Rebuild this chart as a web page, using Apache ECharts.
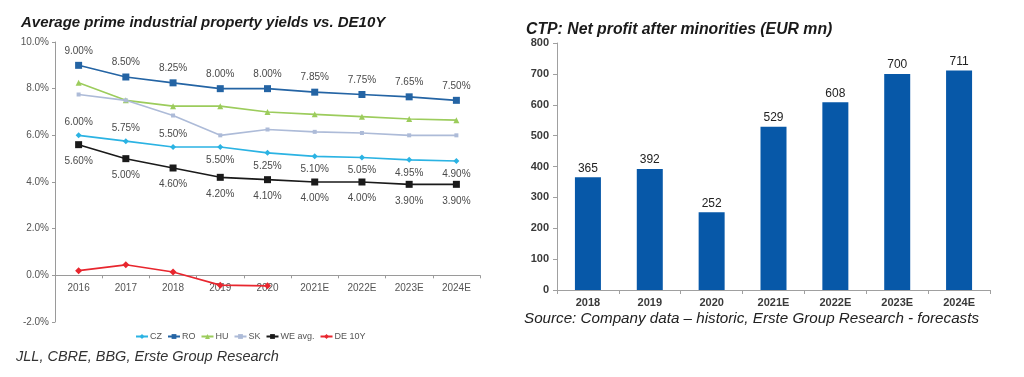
<!DOCTYPE html>
<html>
<head>
<meta charset="utf-8">
<script src="https://cdn.jsdelivr.net/npm/echarts@6/dist/echarts.min.js"></script>
<style>
  html, body { margin: 0; padding: 0; background: #fff; }
  #chart-container { width: 1024px; height: 377px; }
</style>
</head>
<body>
<div id="chart-container"></div>
<script>
// left chart: yields
const yieldYears = ['2016', '2017', '2018', '2019', '2020', '2021E', '2022E', '2023E', '2024E'];
const czYields = [6.00, 5.75, 5.50, 5.50, 5.25, 5.10, 5.05, 4.95, 4.90];
const roYields = [9.00, 8.50, 8.25, 8.00, 8.00, 7.85, 7.75, 7.65, 7.50];
const huYields = [8.25, 7.50, 7.25, 7.25, 7.00, 6.90, 6.80, 6.70, 6.65];
const skYields = [7.75, 7.50, 6.85, 6.00, 6.25, 6.15, 6.10, 6.00, 6.00];
const weYields = [5.60, 5.00, 4.60, 4.20, 4.10, 4.00, 4.00, 3.90, 3.90];
const de10y = [0.20, 0.45, 0.14, -0.42, -0.45];
const czLabelAbove = [true, true, true, false, false, false, false, false, false];

// right chart: net profit
const profitYears = ['2018', '2019', '2020', '2021E', '2022E', '2023E', '2024E'];
const netProfit = [365, 392, 252, 529, 608, 700, 711];

const chartDom = document.getElementById('chart-container');
const myChart = echarts.init(chartDom);

// left grid geometry, x axis sits at 0%
const leftTop = 42, leftHeight = 280, yMin = -2, yMax = 10;
const zeroOffset = -leftHeight * (0 - yMin) / (yMax - yMin);

const pctLabel = {
    show: true,
    fontSize: 10,
    color: '#4a4a4a',
    fontFamily: 'Liberation Sans',
    formatter: (p) => p.value.toFixed(2) + '%'
};

function lineSeries(name, data, color, symbol, size, extra) {
    return Object.assign({
        name: name,
        type: 'line',
        xAxisIndex: 0,
        yAxisIndex: 0,
        data: data,
        symbol: symbol,
        symbolSize: size,
        lineStyle: {color: color, width: 1.6},
        itemStyle: {color: color},
        z: 3
    }, extra || {});
}

const czData = czYields.map((v, i) => ({
    value: v,
    label: {position: czLabelAbove[i] ? 'top' : 'bottom', distance: 5}
}));

var option;

option = {
    animation: false,
    textStyle: {fontFamily: 'Liberation Sans'},
    title: [
        {
            text: 'Average prime industrial property yields vs. DE10Y',
            left: 16, top: 10,
            textStyle: {fontSize: 15, fontWeight: 'bold', fontStyle: 'italic', color: '#1a1a1a', fontFamily: 'Liberation Sans'}
        },
        {
            text: 'CTP: Net profit after minorities (EUR mn)',
            left: 521, top: 17,
            textStyle: {fontSize: 15.8, fontWeight: 'bold', fontStyle: 'italic', color: '#1a1a1a', fontFamily: 'Liberation Sans'}
        }
    ],
    legend: {
        left: 130, top: 327,
        itemWidth: 12, itemHeight: 6, itemGap: 5,
        textStyle: {fontSize: 9, color: '#555', padding: [0, 0, 0, -3]},
        data: ['CZ', 'RO', 'HU', 'SK', 'WE avg.', 'DE 10Y']
    },
    grid: [
        {left: 55, top: leftTop, width: 425, height: leftHeight},
        {left: 557, top: 43, width: 433, height: 247}
    ],
    xAxis: [
        {
            gridIndex: 0,
            type: 'category',
            data: yieldYears,
            offset: zeroOffset,
            axisLine: {onZero: false, lineStyle: {color: '#9a9a9a'}},
            axisTick: {show: true, length: 3, lineStyle: {color: '#9a9a9a'}},
            axisLabel: {fontSize: 10, color: '#555', margin: 8}
        },
        {
            gridIndex: 1,
            type: 'category',
            data: profitYears,
            axisLine: {lineStyle: {color: '#a0a0a0'}},
            axisTick: {show: true, length: 4, lineStyle: {color: '#a0a0a0'}},
            axisLabel: {fontSize: 11, color: '#3a3a3a', fontWeight: 'bold', margin: 7}
        }
    ],
    yAxis: [
        {
            gridIndex: 0,
            type: 'value',
            min: yMin, max: yMax, interval: 2,
            axisLine: {show: true, lineStyle: {color: '#9a9a9a'}},
            axisTick: {show: true, length: 3, lineStyle: {color: '#9a9a9a'}},
            splitLine: {show: false},
            axisLabel: {fontSize: 10, color: '#555', margin: 6, formatter: (v) => v.toFixed(1) + '%'}
        },
        {
            gridIndex: 1,
            type: 'value',
            min: 0, max: 800, interval: 100,
            axisLine: {show: true, lineStyle: {color: '#a0a0a0'}},
            axisTick: {show: true, length: 4, lineStyle: {color: '#a0a0a0'}},
            splitLine: {show: false},
            axisLabel: {fontSize: 11, color: '#3a3a3a', fontWeight: 'bold', margin: 8}
        }
    ],
    series: [
        lineSeries('CZ', czData, '#2bb3e3', 'diamond', 6, {label: pctLabel}),
        lineSeries('RO', roYields, '#2464a4', 'rect', 7, {label: Object.assign({}, pctLabel, {position: 'top', distance: 6})}),
        lineSeries('HU', huYields, '#9ccc5c', 'triangle', 6),
        lineSeries('SK', skYields, '#adbbd8', 'rect', 4),
        lineSeries('WE avg.', weYields, '#1a1a1a', 'rect', 7, {label: Object.assign({}, pctLabel, {position: 'bottom', distance: 8})}),
        lineSeries('DE 10Y', de10y, '#e8262e', 'diamond', 7),
        {
            name: 'Net profit',
            type: 'bar',
            xAxisIndex: 1,
            yAxisIndex: 1,
            data: netProfit,
            barWidth: 26,
            itemStyle: {color: '#0758a8'},
            label: {show: true, position: 'top', distance: 3, fontSize: 12, color: '#222'}
        }
    ],
    graphic: [
        {
            type: 'text', left: 16, top: 349,
            style: {text: 'JLL, CBRE, BBG, Erste Group Research', fontSize: 14.5, fontStyle: 'italic', fill: '#333', fontFamily: 'Liberation Sans'}
        },
        {
            type: 'text', left: 524, top: 311,
            style: {text: 'Source: Company data \u2013 historic, Erste Group Research - forecasts', fontSize: 15.2, fontStyle: 'italic', fill: '#222', fontFamily: 'Liberation Sans'}
        }
    ]
};

option && myChart.setOption(option, true);
</script>
</body>
</html>
